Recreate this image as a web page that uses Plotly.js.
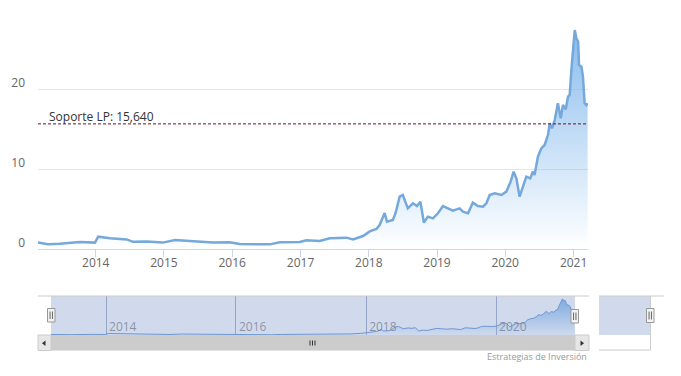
<!DOCTYPE html>
<html><head><meta charset="utf-8">
<script src="https://cdn.plot.ly/plotly-3.0.1.min.js"></script>
<style>html,body{margin:0;padding:0;background:#fff;}#chart{width:681px;height:376px;}</style>
</head><body><div id="chart"></div>
<script>
// ---- data ----
const dates = ['2013-02-26','2013-04-20','2013-06-23','2013-10-08','2013-12-28','2014-01-14','2014-03-18','2014-06-16','2014-07-19','2014-09-30',
'2014-12-26','2015-03-01','2015-05-20','2015-09-19','2015-12-18','2016-02-10','2016-07-20','2016-09-12','2016-12-28','2017-02-02',
'2017-04-14','2017-06-06','2017-09-03','2017-10-09','2017-12-01','2018-01-06','2018-02-11','2018-02-28','2018-03-27','2018-04-08',
'2018-05-10','2018-05-25','2018-06-15','2018-07-02','2018-07-29','2018-08-25','2018-09-16','2018-10-04','2018-10-23','2018-11-13',
'2018-12-10','2019-01-06','2019-02-02','2019-02-28','2019-03-27','2019-05-02','2019-05-20','2019-06-16','2019-07-12','2019-08-08',
'2019-09-04','2019-09-22','2019-10-10','2019-11-06','2019-12-12','2020-01-07','2020-01-30','2020-02-15','2020-03-01','2020-03-18',
'2020-04-05','2020-04-23','2020-05-14','2020-05-28','2020-06-06','2020-06-24','2020-07-12','2020-07-30','2020-08-17','2020-08-26',
'2020-09-07','2020-09-22','2020-10-09','2020-10-24','2020-11-05','2020-11-20','2020-12-02','2020-12-11','2020-12-20','2020-12-29',
'2021-01-07','2021-01-16','2021-01-25','2021-01-30','2021-02-12','2021-02-20','2021-03-01','2021-03-10','2021-03-17'];
const values = [0.8,0.6,0.65,0.88,0.8,1.54,1.33,1.2,0.9,0.95,
0.8,1.12,1.0,0.8,0.85,0.62,0.58,0.83,0.87,1.08,
1.0,1.33,1.42,1.2,1.62,2.2,2.5,3.0,4.5,3.42,
3.62,4.54,6.54,6.75,5.08,5.71,5.37,5.92,3.29,4.04,
3.83,4.46,5.37,5.08,4.79,5.08,4.67,4.46,5.79,5.37,
5.29,5.71,6.75,6.96,6.75,7.17,8.42,9.67,8.8,6.54,
7.79,9.04,8.83,9.67,9.25,11.54,12.58,13.0,14.25,15.71,
15.08,16.12,18.21,16.33,18.0,17.46,19.04,19.25,22.37,25.29,
27.37,26.33,25.92,23.0,22.79,21.54,18.21,18.0,18.21];
const supportLevel = 15.64;
const supportLabel = 'Soporte LP: ';
const yTickVals = [0, 10, 20, 30];
const yTickText = ['0', '10', '20', ''];
const xRange = ['2013-02-26', '2021-03-19'];
const creditText = 'Estrategias de Inversión';

// ---- helpers: pixel -> paper ----
const W = 681, H = 376;
const P = x => x / W;
const Q = y => 1 - y / H;

const FONT = 'Open Sans, Arial, sans-serif';
const lineBlue = 'rgb(117,168,219)';
const grad = {type: 'vertical', start: 0, stop: 27.4,
  colorscale: [[0, 'rgba(124,181,236,0.0)'], [0.5, 'rgba(124,181,236,0.45)'], [1, 'rgba(124,181,236,0.9)']]};

const traces = [
  {x: dates, y: values, xaxis: 'x', yaxis: 'y', type: 'scatter', mode: 'lines',
   line: {color: lineBlue, width: 2.5, shape: 'linear'}, fill: 'tozeroy', fillgradient: grad,
   hoverinfo: 'skip', showlegend: false},
  {x: dates, y: values, xaxis: 'x2', yaxis: 'y2', type: 'scatter', mode: 'lines',
   line: {color: 'rgb(110,160,215)', width: 1}, fill: 'tozeroy', fillgradient: grad,
   hoverinfo: 'skip', showlegend: false}
];

function rect(x0, y0, x1, y1, fill, stroke, sw, layer) {
  return {type: 'rect', xref: 'paper', yref: 'paper', x0: P(x0), x1: P(x1), y0: Q(y1), y1: Q(y0),
    fillcolor: fill, line: {color: stroke || 'rgba(0,0,0,0)', width: sw || 0}, layer: layer || 'above'};
}
function seg(x0, y0, x1, y1, color, w) {
  return {type: 'line', xref: 'paper', yref: 'paper', x0: P(x0), x1: P(x1), y0: Q(y0), y1: Q(y1),
    line: {color: color, width: w || 1}, layer: 'above'};
}
function tri(pts, color) {
  const d = 'M' + pts.map(p => P(p[0]) + ',' + Q(p[1])).join('L') + 'Z';
  return {type: 'path', xref: 'paper', yref: 'paper', path: d, fillcolor: color, line: {width: 0}, layer: 'above'};
}
function handle(x0, y0, x1, y1) {
  const m = (x0 + x1) / 2;
  return [rect(x0, y0, x1, y1, '#f2f2f2', '#999999', 1),
          seg(m - 1.2, y0 + 3, m - 1.2, y1 - 3, '#666', 1),
          seg(m + 1.2, y0 + 3, m + 1.2, y1 - 3, '#666', 1)];
}

const shapes = [
  // support line
  {type: 'line', xref: 'paper', yref: 'y', x0: P(38), x1: P(588), y0: supportLevel, y1: supportLevel,
   line: {color: '#6e1226', width: 1, dash: '3px,2px'}, layer: 'above'},
  // navigator mask
  rect(51, 296, 575, 335, 'rgba(102,133,194,0.3)'),
  seg(38, 296, 589, 296, '#cccccc', 1),
  // scrollbar
  rect(38, 335, 589, 350.5, '#f2f2f2'),
  rect(51, 335, 575, 350.5, '#cccccc'),
  rect(38, 335, 51, 350.5, '#e6e6e6', '#cccccc', 1),
  rect(575, 335, 589, 350.5, '#e6e6e6', '#cccccc', 1),
  tri([[45.5, 340.5], [45.5, 346], [42, 343.2]], '#333333'),
  tri([[580.5, 340.5], [580.5, 346], [584, 343.2]], '#333333'),
  seg(310, 340.5, 310, 345.5, '#333', 1),
  seg(312.5, 340.5, 312.5, 345.5, '#333', 1),
  seg(315, 340.5, 315, 345.5, '#333', 1),
  ...handle(47.5, 308.5, 55, 322),
  ...handle(571, 309.5, 578.5, 323),
  // detached box at right
  rect(599, 296, 650.5, 335, 'rgba(102,133,194,0.3)'),
  seg(599, 296, 664, 296, '#cccccc', 1),
  seg(650.5, 296, 650.5, 350, '#cccccc', 1),
  seg(599, 350, 650.5, 350, '#cccccc', 1),
  ...handle(646.5, 308.5, 654, 322.5)
];

const annotations = [
  {xref: 'paper', yref: 'y', x: P(47), y: supportLevel, xanchor: 'left', yanchor: 'bottom', yshift: -3,
   text: supportLabel + supportLevel.toFixed(3).replace('.', ','), showarrow: false,
   font: {family: FONT, size: 12, color: '#333333'}},
  {xref: 'paper', yref: 'paper', x: P(589), y: Q(356.5), xanchor: 'right', yanchor: 'middle',
   text: creditText, showarrow: false, font: {family: FONT, size: 9, color: '#999999'}}
];

const layout = {
  width: W, height: H, margin: {l: 0, r: 0, t: 0, b: 0},
  paper_bgcolor: '#ffffff', plot_bgcolor: 'rgba(0,0,0,0)',
  font: {family: FONT, color: '#666666', size: 12},
  showlegend: false,
  xaxis: {domain: [P(38), P(588)], range: xRange, type: 'date', anchor: 'y',
    showgrid: false, zeroline: false, showline: true, linecolor: '#ccd6eb', linewidth: 1,
    ticks: 'outside', ticklen: 7, tickcolor: '#ccd6eb', tickwidth: 1,
    dtick: 'M12', tick0: '2014-01-01', tickformat: '%Y', ticklabelstandoff: -4,
    tickfont: {family: FONT, size: 12, color: '#666666'}, fixedrange: true},
  yaxis: {domain: [Q(249), Q(9)], range: [0, 30], anchor: 'x',
    tickvals: yTickVals, ticktext: yTickText, showgrid: true, gridcolor: '#e6e6e6', gridwidth: 1,
    zeroline: false, showline: false, ticks: '',
    ticklabelstandoff: 12, ticklabelshift: -6,
    tickfont: {family: FONT, size: 12, color: '#666666'}, fixedrange: true},
  xaxis2: {domain: [P(51), P(575)], range: xRange, type: 'date', anchor: 'y2',
    showgrid: true, gridcolor: '#aab4c6', gridwidth: 1, zeroline: false, showline: false,
    ticks: '', dtick: 'M24', tick0: '2014-01-01', tickformat: '%Y',
    ticklabelposition: 'inside right', ticklabelstandoff: -4, ticklabelshift: 3,
    tickfont: {family: FONT, size: 12, color: 'rgba(120,120,120,0.75)'}, fixedrange: true},
  yaxis2: {domain: [Q(335), Q(296)], range: [0.4, 29.6], anchor: 'x2',
    showgrid: false, zeroline: false, showline: false, showticklabels: false, ticks: '', fixedrange: true},
  shapes: shapes,
  annotations: annotations
};

Plotly.newPlot('chart', traces, layout, {displayModeBar: false, staticPlot: true});
</script>
</body></html>
